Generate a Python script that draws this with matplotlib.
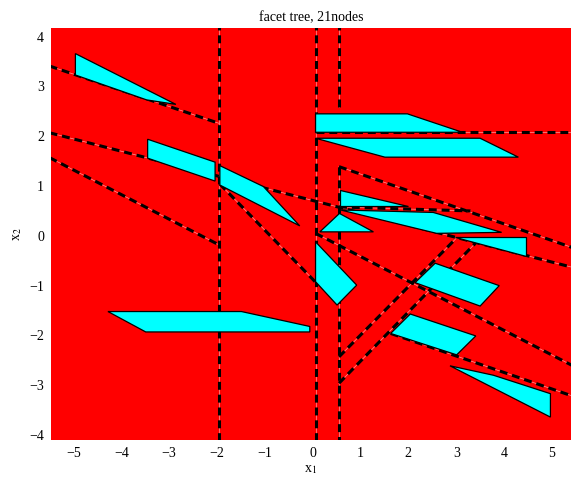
import numpy as np
import matplotlib.pyplot as plt
from matplotlib.patches import Polygon

plt.rcParams['font.family'] = ['Liberation Serif', 'DejaVu Serif']
plt.rcParams['mathtext.fontset'] = 'stix'
plt.rcParams['axes.unicode_minus'] = True

# split hyperplanes of the tree (segments, data coords)
split_start = [(-1.96, 4.3), (0.06, 4.3), (0.55, 4.3), (0.55, 1.39), (0.06, 2.08),
               (-5.5, 3.41), (-5.5, 2.07), (-5.5, 1.57), (-1.94, 1.04),
               (0.55, 1.39), (0.06, 0.05), (0.55, 0.58), (1.63, -1.96),
               (0.55, -2.43), (0.55, -2.96)]
split_end = [(-1.96, -4.3), (0.06, -4.3), (0.55, 2.58), (0.55, -4.3), (5.5, 2.08),
             (-1.96, 2.26), (5.5, -0.65), (-1.96, -0.18), (0.06, -0.93),
             (5.5, -0.26), (5.5, -2.64), (3.3, 0.50), (5.5, -3.24),
             (3.0, -0.05), (3.40, -0.15)]

# leaf facets (polygon vertices)
facet1 = [(-4.96, 3.66), (-4.96, 3.23), (-3.47, 2.73), (-2.86, 2.64)]
facet2 = [(-3.45, 1.94), (-3.45, 1.56), (-2.04, 1.10), (-2.04, 1.48)]
facet3 = [(-1.94, 1.41), (-1.03, 0.99), (-0.27, 0.20), (-1.94, 1.02)]
facet4 = [(0.06, 2.45), (1.98, 2.45), (3.13, 2.08), (0.06, 2.08)]
facet5 = [(0.06, 1.96), (3.50, 1.96), (4.30, 1.58), (1.51, 1.58)]
facet6 = [(0.57, 0.93), (0.57, 0.59), (1.99, 0.59)]
facet7 = [(0.58, 0.52), (2.52, 0.47), (3.95, 0.07), (2.59, 0.05)]
facet8 = [(0.15, 0.08), (0.56, 0.45), (1.27, 0.08)]
facet9 = [(2.98, -0.03), (4.46, -0.03), (4.46, -0.41)]
facet10 = [(0.06, -0.12), (0.06, -0.92), (0.51, -1.39), (0.92, -0.99)]
facet11 = [(2.56, -0.55), (3.90, -1.00), (3.50, -1.41), (2.14, -0.94)]
facet12 = [(2.04, -1.57), (3.41, -2.01), (3.01, -2.39), (1.63, -1.96)]
facet13 = [(2.87, -2.61), (3.78, -2.80), (4.97, -3.17), (4.97, -3.64)]
facet14 = [(-4.28, -1.52), (-1.49, -1.52), (-0.06, -1.82), (-0.06, -1.93), (-3.49, -1.93)]
facets = [facet1, facet2, facet3, facet4, facet5, facet6, facet7,
          facet8, facet9, facet10, facet11, facet12, facet13, facet14]

fig = plt.figure(figsize=(5.71, 4.78), dpi=100)
ax = fig.add_axes([51/571, 38/478, 520/571, 412.3/478])
ax.set_facecolor('#ff0000')

for p0, p1 in zip(split_start, split_end):
    xs = [p0[0], p1[0]]
    ys = [p0[1], p1[1]]
    ax.plot(xs, ys, color='#ff9a9a', lw=0.5, zorder=2)
    ax.plot(xs, ys, color='black', lw=2.2, dashes=(2.6, 1.6), zorder=3)

for f in facets:
    ax.add_patch(Polygon(f, closed=True, facecolor='#00ffff', edgecolor='black',
                         lw=0.9, zorder=4))

ax.set_xlim(-5.47, 5.40)
ax.set_ylim(-4.10, 4.18)
ax.set_xticks(np.arange(-5, 6))
ax.set_yticks(np.arange(-4, 5))
ax.tick_params(length=0, labelsize=10, pad=5)
for s in ax.spines.values():
    s.set_visible(False)

ax.set_title('facet tree, 21nodes', fontsize=10, pad=5)
ax.set_xlabel(r'x$_1$', fontsize=10, labelpad=2)
ax.set_ylabel(r'x$_2$', fontsize=10, labelpad=4)

fig.savefig('out.png', dpi=100)
